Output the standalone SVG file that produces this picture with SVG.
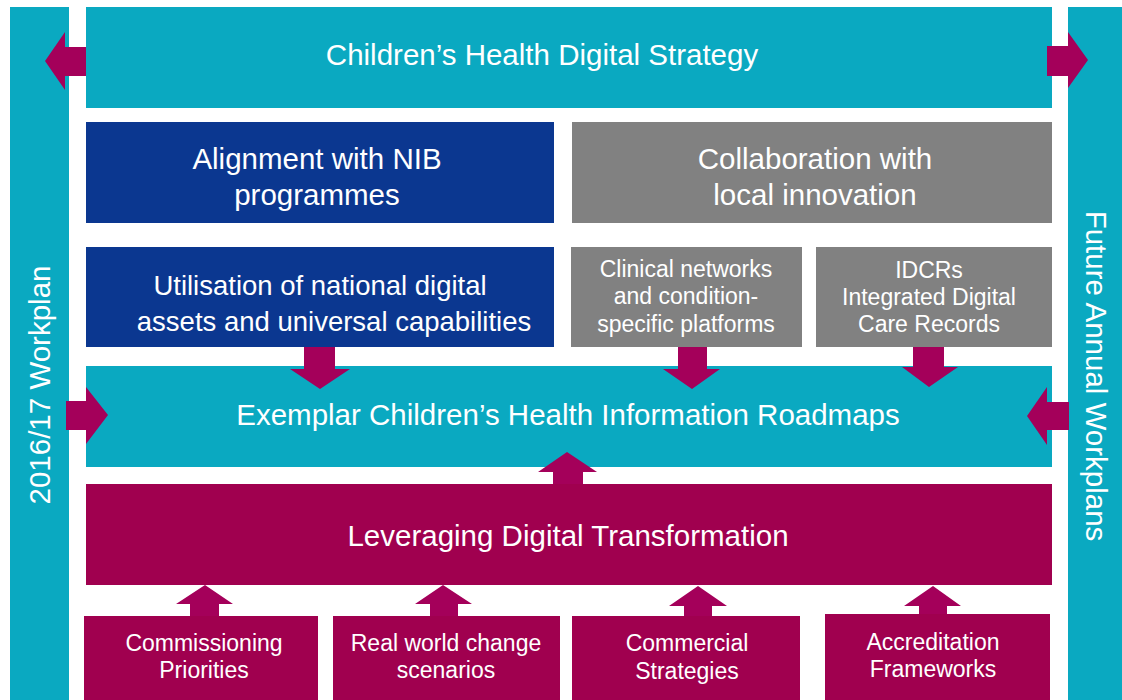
<svg xmlns="http://www.w3.org/2000/svg" width="1122" height="700" viewBox="0 0 1122 700">
  <style>
    .teal { fill: #0AA9C1; }
    .navy { fill: #0B3790; }
    .grey { fill: #818181; }
    .plum { fill: #A0004F; }
    .arrow { fill: #A4005A; }
    text { font-family: "Liberation Sans", Arial, sans-serif; fill: #FFFFFF; text-anchor: middle; }
    .big { font-size: 29.5px; }
    .mid { font-size: 27.5px; }
    .small { font-size: 23px; }
  </style>
  <rect width="1122" height="700" fill="#FFFFFF"/>

  <!-- side timeline bars -->
  <g id="workplan-2016">
    <rect class="teal" x="10" y="7" width="59" height="693"/>
    <text class="big" transform="translate(50,385) rotate(-90)">2016/17 Workplan</text>
  </g>
  <g id="future-workplans">
    <rect class="teal" x="1068" y="7" width="54" height="693"/>
    <text class="big" transform="translate(1086,376) rotate(90)">Future Annual Workplans</text>
  </g>

  <g id="strategy">
    <rect class="teal" x="86" y="7" width="966" height="101"/>
    <text class="big" x="542" y="65">Children’s Health Digital Strategy</text>
  </g>

  <g id="nib-alignment">
    <rect class="navy" x="86" y="122" width="468" height="101"/>
    <text class="big" x="317" y="169">Alignment with NIB</text>
    <text class="big" x="317" y="205">programmes</text>
  </g>
  <g id="local-innovation">
    <rect class="grey" x="572" y="122" width="480" height="101"/>
    <text class="big" x="815" y="169">Collaboration with</text>
    <text class="big" x="815" y="205">local innovation</text>
  </g>

  <g id="national-assets">
    <rect class="navy" x="86" y="247" width="468" height="100"/>
    <text class="mid" x="320" y="295">Utilisation of national digital</text>
    <text class="mid" x="334" y="331">assets and universal capabilities</text>
  </g>
  <g id="clinical-networks">
    <rect class="grey" x="571" y="247" width="231" height="100"/>
    <text class="small" x="686" y="277">Clinical networks</text>
    <text class="small" x="686" y="304">and condition-</text>
    <text class="small" x="686" y="332">specific platforms</text>
  </g>
  <g id="idcrs">
    <rect class="grey" x="816" y="247" width="236" height="100"/>
    <text class="small" x="929" y="278">IDCRs</text>
    <text class="small" x="929" y="305">Integrated Digital</text>
    <text class="small" x="929" y="332">Care Records</text>
  </g>

  <g id="roadmaps">
    <rect class="teal" x="86" y="366" width="966" height="101"/>
    <text class="big" x="568" y="425">Exemplar Children’s Health Information Roadmaps</text>
  </g>

  <g id="digital-transformation">
    <rect class="plum" x="86" y="484" width="966" height="101"/>
    <text class="big" x="568" y="546">Leveraging Digital Transformation</text>
  </g>

  <g id="commissioning">
    <rect class="plum" x="84" y="616" width="234" height="84"/>
    <text class="small" x="204" y="651">Commissioning</text>
    <text class="small" x="204" y="678">Priorities</text>
  </g>
  <g id="real-world">
    <rect class="plum" x="333" y="616" width="227" height="84"/>
    <text class="small" x="446" y="651">Real world change</text>
    <text class="small" x="446" y="678">scenarios</text>
  </g>
  <g id="commercial">
    <rect class="plum" x="572" y="616" width="228" height="84"/>
    <text class="small" x="687" y="651">Commercial</text>
    <text class="small" x="687" y="679">Strategies</text>
  </g>
  <g id="accreditation">
    <rect class="plum" x="825" y="614" width="225" height="86"/>
    <text class="small" x="933" y="650">Accreditation</text>
    <text class="small" x="933" y="677">Frameworks</text>
  </g>

  <!-- block arrows -->
  <g id="connectors">
    <!-- strategy out to the side bars -->
    <polygon class="arrow" points="86,47 65,47 65,32 45,61 65,90 65,76 86,76"/>
    <polygon class="arrow" points="1047,46 1068,46 1068,32 1088,60 1068,88 1068,76 1047,76"/>
    <!-- side bars into roadmaps -->
    <polygon class="arrow" points="66,401 86,401 86,387 108,415 86,444 86,430 66,430"/>
    <polygon class="arrow" points="1069,402 1047,402 1047,387 1027,416 1047,445 1047,430 1069,430"/>
    <!-- inputs down into roadmaps -->
    <polygon class="arrow" points="304,347 335,347 335,369 350,369 320,389 290,369 304,369"/>
    <polygon class="arrow" points="678,347 707,347 707,369 720,369 692,389 663,369 678,369"/>
    <polygon class="arrow" points="913,347 944,347 944,367 958,367 929,387 902,367 913,367"/>
    <!-- transformation up into roadmaps -->
    <polygon class="arrow" points="553,484 583,484 583,472 597,472 567,452 538,472 553,472"/>
    <!-- foundations up into transformation -->
    <polygon class="arrow" points="190,616 219,616 219,604 233,604 205,585 176,604 190,604"/>
    <polygon class="arrow" points="430,616 458,616 458,604 472,604 443,585 415,604 430,604"/>
    <polygon class="arrow" points="684,616 712,616 712,606 727,606 698,586 669,606 684,606"/>
    <polygon class="arrow" points="919,614 947,614 947,606 961,606 933,586 904,606 919,606"/>
  </g>
</svg>
